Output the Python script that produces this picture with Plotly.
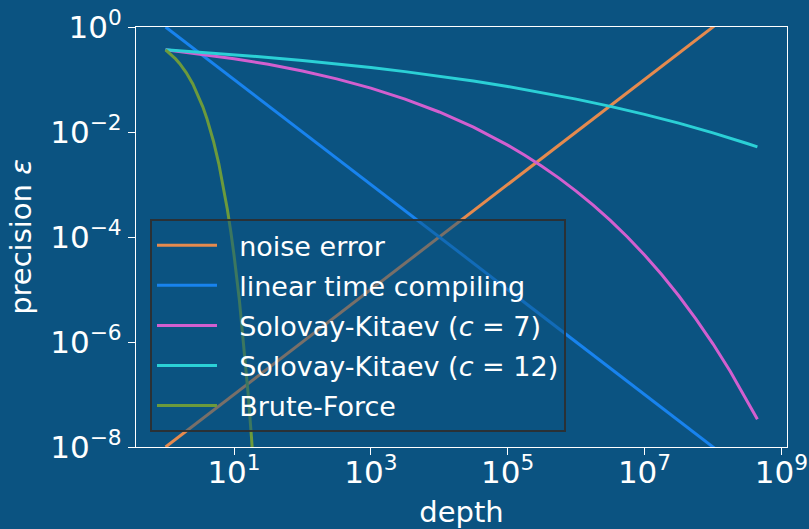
import plotly.graph_objects as go

# ---- data ----
depth_line = [1, 4.467e8]
noise_error = [1e-8, 4.467]
linear_compiling = [1.0, 2.239e-9]

depth_sk7 = [1, 3.162, 10, 31.62, 100, 316.2, 1e3, 3162, 1e4, 3.162e4, 1e5,
             1.778e5, 3.162e5, 5.623e5, 1e6, 1.778e6, 3.162e6, 5.623e6, 1e7,
             1.778e7, 3.162e7, 5.623e7, 1e8, 1.778e8, 3.162e8, 4.467e8]
sk_c7 = [0.3679, 0.3077, 0.2492, 0.1944, 0.1450, 0.1027, 0.06838, 0.04233,
         0.02405, 0.01235, 0.005631, 0.003612, 0.002231, 0.001322, 7.489e-4,
         4.042e-4, 2.068e-4, 1.000e-4, 4.540e-5, 1.927e-5, 7.595e-6,
         2.766e-6, 9.236e-7, 2.807e-7, 7.704e-8, 3.366e-8]

depth_sk12 = [1, 3.162, 10, 31.62, 100, 316.2, 1e3, 3162, 1e4, 3.162e4, 1e5,
              3.162e5, 1e6, 3.162e6, 1e7, 3.162e7, 1e8, 3.162e8, 4.467e8]
sk_c12 = [0.3679, 0.3327, 0.2978, 0.2636, 0.2304, 0.1988, 0.1689, 0.1412,
          0.1160, 0.09335, 0.07353, 0.05653, 0.04232, 0.03079, 0.02169,
          0.01474, 0.009643, 0.006042, 0.005206]

depth_bf = [1, 1.2, 1.4, 1.6, 1.8, 2, 2.5, 3, 3.5, 4, 5, 6, 7, 8, 9, 10,
            12, 14, 16, 18, 20]
brute_force = [0.3679, 0.3012, 0.2466, 0.2019, 0.1653, 0.1353, 0.08209,
               0.04979, 0.03020, 0.01832, 0.006738, 0.002479, 9.119e-4,
               3.355e-4, 1.234e-4, 4.540e-5, 6.144e-6, 8.315e-7, 1.125e-7,
               1.523e-8, 2.061e-9]

x_tickvals = [1e1, 1e3, 1e5, 1e7, 1e9]
x_ticktext = ["10<sup>1</sup>", "10<sup>3</sup>", "10<sup>5</sup>",
              "10<sup>7</sup>", "10<sup>9</sup>"]
y_tickvals = [1e-8, 1e-6, 1e-4, 1e-2, 1e0]
y_ticktext = ["10<sup>\u22128</sup>", "10<sup>\u22126</sup>",
              "10<sup>\u22124</sup>", "10<sup>\u22122</sup>", "10<sup>0</sup>"]

BG = "#0b5381"
LW = 3
PAD = "\u00a0\u00a0"

series = [
    ("noise error", depth_line, noise_error, "#e58a4e"),
    ("linear time compiling", depth_line, linear_compiling, "#1883ee"),
    ("Solovay-Kitaev (<i>c</i> = 7)", depth_sk7, sk_c7, "#d25fcf"),
    ("Solovay-Kitaev (<i>c</i> = 12)", depth_sk12, sk_c12, "#2bd0d6"),
    ("Brute-Force", depth_bf, brute_force, "#6c9a3c"),
]

fig = go.Figure()
for i, (name, xs, ys, col) in enumerate(series):
    fig.add_trace(go.Scatter(x=xs, y=ys, mode="lines", name=PAD + name,
                             legendgroup=f"g{i}",
                             line=dict(color=col, width=LW)))

axis_common = dict(
    type="log", showgrid=False, zeroline=False, automargin=False,
    showline=True, linecolor="white", linewidth=1.2, mirror=True,
    ticks="outside", ticklen=7, tickwidth=1.2, tickcolor="white",
    tickfont=dict(size=31, color="white", family="DejaVu Sans"),
)

fig.update_xaxes(range=[-0.4325, 9.0825], tickvals=x_tickvals,
                 ticktext=x_ticktext, ticklabelstandoff=-9,
                 title=dict(text="depth", standoff=12,
                            font=dict(size=29, color="white")),
                 **axis_common)
fig.update_yaxes(range=[-8, 0], tickvals=y_tickvals, ticktext=y_ticktext,
                 ticklabelstandoff=0,
                 title=dict(text="precision <i>\u03b5</i>", standoff=10,
                            font=dict(size=29, color="white")),
                 **axis_common)

fig.update_layout(
    width=809, height=529,
    paper_bgcolor=BG, plot_bgcolor=BG,
    margin=dict(l=136, r=22, t=27, b=82, autoexpand=False),
    font=dict(family="DejaVu Sans", color="white"),
    showlegend=True,
    legend=dict(x=0.0215, y=0.5425, xanchor="left", yanchor="top",
                bgcolor="rgba(11,83,129,0.5)",
                bordercolor="rgba(45,45,45,0.9)", borderwidth=2,
                font=dict(size=27, color="white", family="DejaVu Sans"),
                itemwidth=60, tracegroupgap=2),
)

fig.write_html("out.html")
